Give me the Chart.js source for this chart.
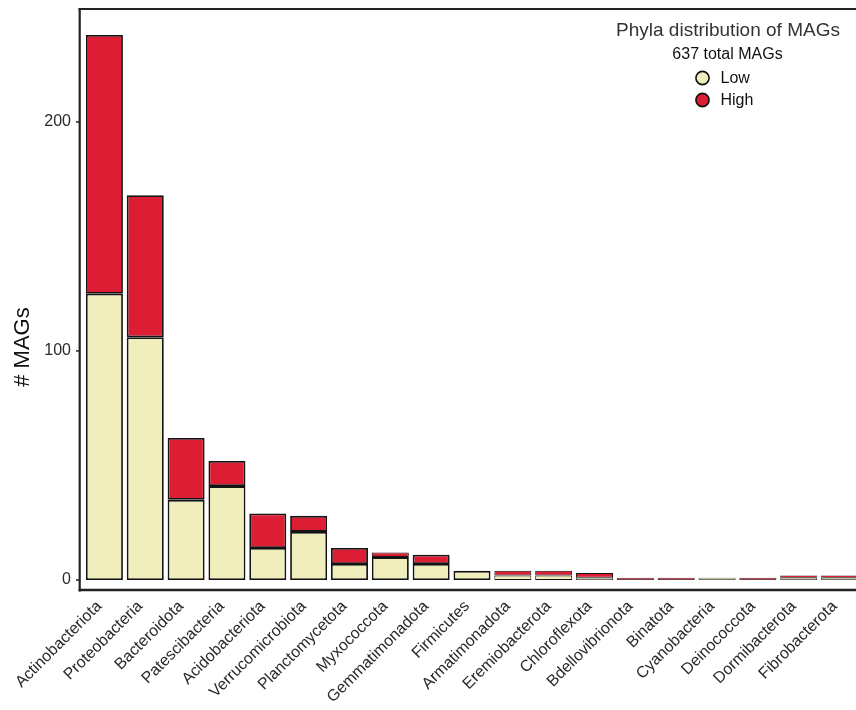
<!DOCTYPE html>
<html>
<head>
<meta charset="utf-8">
<script src="https://cdn.jsdelivr.net/npm/chart.js@4.4.1/dist/chart.umd.min.js"></script>
<style>
  html, body { margin: 0; padding: 0; overflow: hidden; background: #fff; }
  #wrap { width: 870px; height: 710px; }
</style>
</head>
<body>
<div id="wrap"><canvas id="c" width="870" height="710"></canvas></div>
<script>
const categories = ["Actinobacteriota","Proteobacteria","Bacteroidota","Patescibacteria","Acidobacteriota","Verrucomicrobiota","Planctomycetota","Myxococcota","Gemmatimonadota","Firmicutes","Armatimonadota","Eremiobacterota","Chloroflexota","Bdellovibrionota","Binatota","Cyanobacteria","Deinococcota","Dormibacterota","Fibrobacterota"];
const lowValues  = [125,106,35,41,14,21,7,10,7,4,2,2,1,0,0,1,0,1,1];
const highValues = [113,62,27,11,15,7,7,2,4,0,2,2,2,1,1,0,1,1,1];
const yTicks = [0,100,200];
const legendTitle = "Phyla distribution of MAGs";
const yTitle = "# MAGs";

const totalMAGs = lowValues.reduce((a,b)=>a+b,0) + highValues.reduce((a,b)=>a+b,0);
const FONT = "'Liberation Sans', Arial, Helvetica, sans-serif";
const LOW = '#F0EEBC', HIGH = '#DC1D34', EDGE = '#141414';

function edgeWidth(c) {
  const v = c.raw;
  if (v <= 1) return 0.7;
  if (v <= 2) return 1.0;
  return 1.8;
}

const framePlugin = {
  id: 'frame',
  afterDraw(chart) {
    const ctx = chart.ctx, ca = chart.chartArea, y = chart.scales.y;
    const W = chart.width;
    ctx.save();
    ctx.strokeStyle = '#222';
    ctx.lineCap = 'butt';
    ctx.lineWidth = 2.2;
    ctx.beginPath(); ctx.moveTo(79.7, ca.top - 1); ctx.lineTo(79.7, ca.bottom + 1.5); ctx.stroke();
    ctx.lineWidth = 2;
    ctx.beginPath(); ctx.moveTo(78.6, ca.top); ctx.lineTo(W, ca.top); ctx.stroke();
    ctx.lineWidth = 2.6;
    ctx.beginPath(); ctx.moveTo(78.6, ca.bottom); ctx.lineTo(W, ca.bottom); ctx.stroke();
    ctx.lineWidth = 1.5;
    yTicks.forEach(v => {
      const py = y.getPixelForValue(v);
      ctx.beginPath(); ctx.moveTo(76, py); ctx.lineTo(79, py); ctx.stroke();
    });
    ctx.fillStyle = '#111';
    ctx.font = '22px ' + FONT;
    ctx.textAlign = 'center'; ctx.textBaseline = 'middle';
    ctx.save();
    ctx.translate(23, 347); ctx.rotate(-Math.PI/2);
    ctx.fillText(yTitle, 0, 0);
    ctx.restore();
    ctx.fillStyle = '#333';
    ctx.font = '19px ' + FONT;
    ctx.fillText(legendTitle, 728, 31);
    ctx.fillStyle = '#111';
    ctx.font = '16px ' + FONT;
    ctx.fillText(totalMAGs + ' total MAGs', 727.5, 55);
    const ds = chart.data.datasets;
    ds.forEach((d, i) => {
      const cy = 78 + i * 22;
      ctx.beginPath(); ctx.arc(702.5, cy, 6.6, 0, Math.PI*2);
      ctx.fillStyle = d.backgroundColor; ctx.fill();
      ctx.lineWidth = 1.6; ctx.strokeStyle = '#111'; ctx.stroke();
      ctx.fillStyle = '#111'; ctx.textAlign = 'left';
      ctx.fillText(d.label, 720.5, cy + 0.5);
      ctx.textAlign = 'center';
    });
    ctx.restore();
  }
};

new Chart(document.getElementById('c'), {
  type: 'bar',
  data: {
    labels: categories,
    datasets: [
      { label: 'Low', data: lowValues, backgroundColor: LOW, borderColor: EDGE, borderWidth: edgeWidth, borderSkipped: false },
      { label: 'High', data: highValues, backgroundColor: HIGH, borderColor: EDGE, borderWidth: edgeWidth, borderSkipped: false }
    ]
  },
  options: {
    responsive: false,
    animation: false,
    devicePixelRatio: 1,
    layout: { padding: { left: 0, right: 10, top: 9, bottom: 0 } },
    datasets: { bar: { categoryPercentage: 1.0, barPercentage: 0.906 } },
    plugins: { legend: { display: false }, tooltip: { enabled: false } },
    scales: {
      x: {
        stacked: true,
        grid: { display: false, drawTicks: false },
        border: { display: false },
        ticks: {
          autoSkip: false, maxRotation: 45, minRotation: 45,
          color: '#2a2a2a', font: { family: FONT, size: 16 }, padding: 7, labelOffset: -5
        },
        afterFit(s) { s.height = 120; s.paddingLeft = 0; s.paddingRight = 0; }
      },
      y: {
        stacked: true,
        min: -4.37, max: 249.3,
        grid: { display: false, drawTicks: false },
        border: { display: false },
        afterBuildTicks(s) { s.ticks = yTicks.map(v => ({ value: v })); },
        ticks: { color: '#2a2a2a', font: { family: FONT, size: 16 }, padding: 13 },
        afterFit(s) { s.width = 84; s.paddingTop = 0; s.paddingBottom = 0; }
      }
    }
  },
  plugins: [framePlugin]
});
</script>
</body>
</html>
